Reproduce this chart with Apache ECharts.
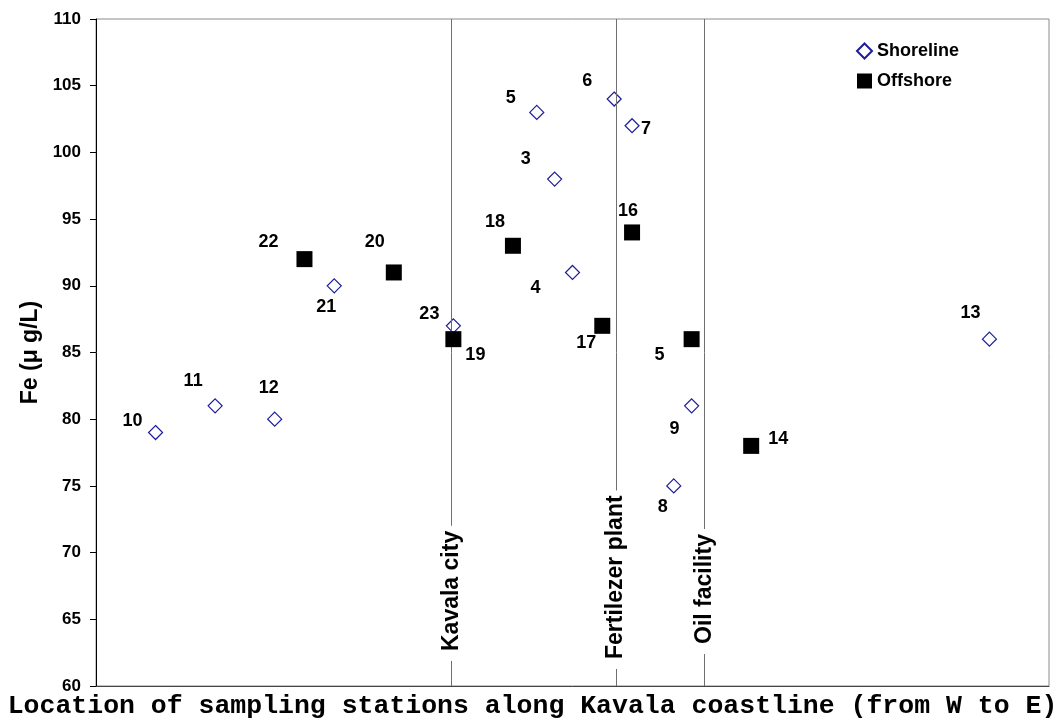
<!DOCTYPE html>
<html>
<head>
<meta charset="utf-8">
<script src="https://cdn.jsdelivr.net/npm/echarts@6/dist/echarts.min.js"></script>
<style>
  html, body { margin: 0; padding: 0; background: #fff; }
  #chart { width: 1063px; height: 718px; }
</style>
</head>
<body>
<div id="chart"></div>
<script>
// ---- data ----
const shoreStations = ['10', '11', '12', '21', '23', '5', '3', '4', '6', '7', '8', '9', '13'];
const shorePositions = [1, 2, 3, 4, 6, 7.4, 7.7, 8, 8.7, 9, 9.7, 10, 15];
const shoreFe = [79, 81, 80, 90, 87, 103, 98, 91, 104, 102, 75, 81, 86];

const offStations = ['22', '20', '19', '18', '17', '16', '5', '14'];
const offPositions = [3.5, 5, 6, 7, 8.5, 9, 10, 11];
const offFe = [92, 91, 86, 93, 87, 94, 86, 78];

const landmarkNames = ['Kavala city', 'Fertilezer plant', 'Oil facility'];
const landmarkPositions = [5.97, 8.73, 10.22];

const yTicks = { min: 60, max: 110, interval: 5 };

// ---- layout (label placement, not data) ----
const shoreLabelOffsets = [[-23, -12], [-22, -25], [-6, -31], [-8, 21], [-24, -12], [-26, -14], [-29, -20],
                           [-37, 16], [-27, -18], [14, 3], [-11, 21], [-17, 23], [-19, -26]];
const offLabelOffsets = [[-36, -17], [-19, -30], [22, 16], [-18, -24], [-16, 17], [-4, -21], [-32, 16], [27, -7]];
const landmarkLabelDistance = [25, 17, 32];

const FONT = 'Liberation Sans, Arial, sans-serif';
const labelStyle = { show: true, position: 'inside', color: '#000', fontFamily: FONT, fontWeight: 'bold', fontSize: 18 };

function buildPoints(pos, vals, names, offsets) {
  return pos.map((x, i) => ({
    value: [x, vals[i]],
    name: names[i],
    label: Object.assign({}, labelStyle, { offset: offsets[i], formatter: names[i] })
  }));
}

const chart = echarts.init(document.getElementById('chart'), null, { renderer: 'canvas' });

chart.setOption({
  backgroundColor: '#fff',
  animation: false,
  grid: { left: 96, right: 14, top: 19, bottom: 32, outerBoundsMode: 'none', containLabel: false,
          show: true, borderColor: '#8a8a8a', borderWidth: 1, backgroundColor: 'transparent' },
  legend: {
    orient: 'vertical', left: 856, top: 42, itemWidth: 15, itemHeight: 15, itemGap: 12, padding: 0,
    textStyle: { fontFamily: FONT, fontWeight: 'bold', fontSize: 18, color: '#000' },
    data: ['Shoreline', 'Offshore']
  },
  xAxis: {
    type: 'value', min: 0, max: 16,
    axisLine: { show: true, onZero: false, lineStyle: { color: '#444', width: 1 } },
    axisTick: { show: false }, axisLabel: { show: false }, splitLine: { show: false },
    name: 'Location of sampling stations along Kavala coastline (from W to E)',
    nameLocation: 'middle', nameGap: 7,
    nameTextStyle: { fontFamily: 'Liberation Mono, Courier New, monospace', fontWeight: 'bold', fontSize: 26.5, color: '#000', padding: [0, 80, 0, 0], verticalAlign: 'top' }
  },
  yAxis: {
    type: 'value', min: yTicks.min, max: yTicks.max, interval: yTicks.interval,
    axisLine: { show: true, onZero: false, lineStyle: { color: '#000', width: 1 } },
    axisTick: { show: true, inside: false, length: 6, lineStyle: { color: '#000' } },
    axisLabel: { color: '#000', fontFamily: FONT, fontWeight: 'bold', fontSize: 17, margin: 15 },
    splitLine: { show: false },
    name: 'Fe (μ g/L)', nameLocation: 'middle', nameGap: 50,
    nameTextStyle: { fontFamily: FONT, fontWeight: 'bold', fontSize: 23, color: '#000' }
  },
  series: [
    {
      name: 'Shoreline', type: 'scatter', symbol: 'diamond', symbolSize: 14,
      itemStyle: { color: '#ffffff', borderColor: '#1c1c9c', borderWidth: 1.2, opacity: 1 },
      data: buildPoints(shorePositions, shoreFe, shoreStations, shoreLabelOffsets),
      z: 4,
      markLine: {
        silent: true, symbol: 'none', animation: false,
        lineStyle: { color: '#707070', width: 1, type: 'solid' },
        label: {
          show: true, position: 'insideStart', formatter: '{b}', color: '#000',
          fontFamily: FONT, fontWeight: 'bold', fontSize: 23,
          backgroundColor: '#fff', padding: [0, 5, 0, 10]
        },
        data: landmarkNames.map((n, i) => ({ name: n, xAxis: landmarkPositions[i], label: { distance: [landmarkLabelDistance[i], 0] } }))
      }
    },
    {
      name: 'Offshore', type: 'scatter', symbol: 'rect', symbolSize: 16,
      itemStyle: { color: '#000000', opacity: 1 },
      data: buildPoints(offPositions, offFe, offStations, offLabelOffsets),
      z: 5
    }
  ]
});
</script>
</body>
</html>
